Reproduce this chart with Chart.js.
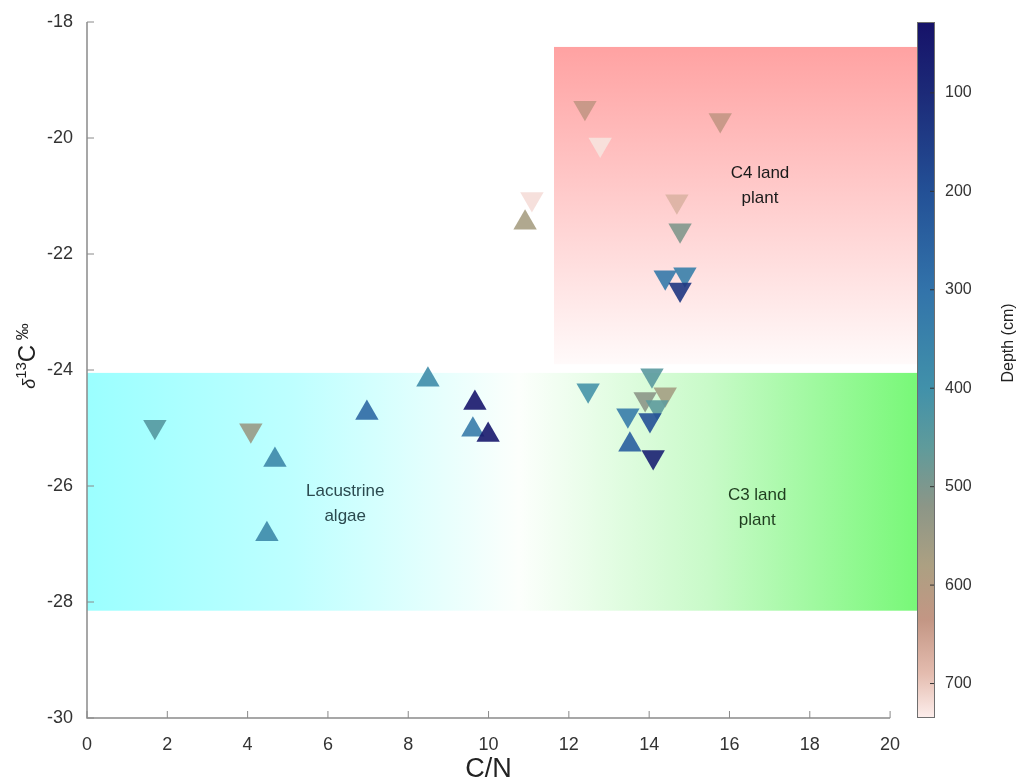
<!DOCTYPE html>
<html><head><meta charset="utf-8">
<script src="https://cdn.jsdelivr.net/npm/chart.js@4.4.1/dist/chart.umd.min.js"></script>
<style>html,body{margin:0;padding:0;background:#fff;overflow:hidden;}</style>
</head><body>
<canvas id="c" width="1017" height="784"></canvas>
<script>
// ---- data ----
const xTickValues = [0,2,4,6,8,10,12,14,16,18,20];
const yTickValues = [-30,-28,-26,-24,-22,-20,-18];
const depthTickValues = [100,200,300,400,500,600,700];

// downward triangles
const cnDown   = [1.69, 4.08, 12.40, 12.78, 15.77, 11.08, 14.69, 14.77, 14.40, 14.89, 14.77, 12.48, 14.07, 14.40, 13.90, 14.20, 13.47, 14.02, 14.10];
const d13cDown = [-24.98, -25.04, -19.48, -20.11, -19.69, -21.05, -21.09, -21.59, -22.40, -22.35, -22.61, -24.35, -24.09, -24.42, -24.50, -24.64, -24.78, -24.86, -25.50];
const depthDown= [440, 545, 635, 725, 635, 720, 675, 505, 320, 340, 130, 410, 450, 565, 520, 455, 330, 200, 70];

// upward triangles
const cnUp   = [10.91, 4.68, 4.48, 6.97, 8.49, 9.66, 9.61, 9.99, 13.52];
const d13cUp = [-21.46, -25.55, -26.83, -24.74, -24.17, -24.57, -25.03, -25.12, -25.29];
const depthUp= [570, 370, 375, 270, 385, 40, 330, 45, 240];

// shaded source regions (C/N range, d13C range)
const c4Region  = {cnFrom: 11.63, d13cTop: -18.43, d13cBottom: -23.9};
const mixRegion = {cnFrom: 0, d13cTop: -24.05, d13cBottom: -28.15};

// depth colormap stops
const cmapDepth = [28, 100, 200, 300, 400, 460, 520, 580, 635, 690, 735];
const cmapRGB = [[22,18,105],[28,42,120],[35,80,150],[50,115,170],[65,145,170],[95,155,155],[140,150,135],[172,160,130],[195,150,132],[228,188,175],[253,238,236]];

const regionLabels = [
  {lines:['Lacustrine','algae'], cn:6.43, d13c:-26.3, color:'#2b4a4f'},
  {lines:['C4 land','plant'], cn:16.76, d13c:-20.83, color:'#1a1a1a'},
  {lines:['C3 land','plant'], cn:16.69, d13c:-26.37, color:'#1f3d1f'}
];

const FONT = "'Liberation Sans', Arial, sans-serif";

function depthColor(d, a){
  let i = 0;
  while (i < cmapDepth.length-2 && d > cmapDepth[i+1]) i++;
  const t = Math.max(0, Math.min(1, (d - cmapDepth[i])/(cmapDepth[i+1]-cmapDepth[i])));
  const c = cmapRGB[i].map((v,k)=>Math.round(v + (cmapRGB[i+1][k]-v)*t));
  return `rgba(${c[0]},${c[1]},${c[2]},${a})`;
}

const ALPHA = 0.9;
const downPts = cnDown.map((v,i)=>({x:v, y:d13cDown[i]}));
const upPts = cnUp.map((v,i)=>({x:v, y:d13cUp[i]}));

const drawPlugin = {
  id:'custom',
  beforeDatasetsDraw(chart){
    const {ctx, chartArea:a, scales} = chart;
    const x = scales.x, y = scales.y, dz = scales.depth;
    ctx.save();
    // mixed (lacustrine / C3) band
    let l = x.getPixelForValue(mixRegion.cnFrom), t = y.getPixelForValue(mixRegion.d13cTop), b = y.getPixelForValue(mixRegion.d13cBottom);
    let g = ctx.createLinearGradient(l,0,a.right,0);
    g.addColorStop(0,'rgb(155,255,255)');
    g.addColorStop(0.25,'rgb(190,255,255)');
    g.addColorStop(0.52,'rgb(252,255,252)');
    g.addColorStop(0.75,'rgb(200,250,200)');
    g.addColorStop(1,'rgb(120,248,120)');
    ctx.fillStyle = g; ctx.fillRect(l,t,a.right-l,b-t);
    // C4 band
    l = x.getPixelForValue(c4Region.cnFrom); t = y.getPixelForValue(c4Region.d13cTop); b = y.getPixelForValue(c4Region.d13cBottom);
    g = ctx.createLinearGradient(0,t,0,b);
    g.addColorStop(0,'rgb(255,162,162)');
    g.addColorStop(1,'rgb(255,250,250)');
    ctx.fillStyle = g; ctx.fillRect(l,t,a.right-l,b-t);

    // axes lines (left & bottom) with inward ticks
    ctx.strokeStyle = '#8a8a8a'; ctx.lineWidth = 1.5;
    const x0 = x.getPixelForValue(0), x20 = x.getPixelForValue(20);
    ctx.beginPath(); ctx.moveTo(x0, a.top); ctx.lineTo(x0, a.bottom); ctx.lineTo(x20, a.bottom); ctx.stroke();
    ctx.lineWidth = 1;
    ctx.beginPath();
    xTickValues.forEach(v=>{const px=x.getPixelForValue(v); ctx.moveTo(px,a.bottom); ctx.lineTo(px,a.bottom-7);});
    yTickValues.forEach(v=>{const py=y.getPixelForValue(v); ctx.moveTo(x0,py); ctx.lineTo(x0+7,py);});
    ctx.stroke();

    // colorbar
    const cbL = a.right, cbR = a.right + 18;
    g = ctx.createLinearGradient(0, dz.getPixelForValue(cmapDepth[0]), 0, dz.getPixelForValue(cmapDepth[cmapDepth.length-1]));
    cmapDepth.forEach((d,i)=>{ g.addColorStop((d-cmapDepth[0])/(cmapDepth[cmapDepth.length-1]-cmapDepth[0]), depthColor(d,1)); });
    ctx.fillStyle = g; ctx.fillRect(cbL, a.top, cbR-cbL, a.bottom-a.top);
    ctx.strokeStyle = '#6e6e6e'; ctx.lineWidth = 1;
    ctx.strokeRect(cbL+0.5, a.top+0.5, cbR-cbL-1, a.bottom-a.top-1);
    ctx.beginPath();
    depthTickValues.forEach(v=>{const py=dz.getPixelForValue(v); ctx.moveTo(cbR-1,py); ctx.lineTo(cbR-5,py);});
    ctx.strokeStyle='#333'; ctx.stroke();
    ctx.restore();
  },
  afterDatasetsDraw(chart){
    const {ctx, chartArea:a, scales} = chart;
    const x = scales.x, y = scales.y;
    ctx.save();
    ctx.textAlign='center'; ctx.textBaseline='middle';
    ctx.font = `17px ${FONT}`;
    regionLabels.forEach(lb=>{
      const cx = x.getPixelForValue(lb.cn), cy = y.getPixelForValue(lb.d13c);
      ctx.fillStyle = lb.color;
      const n = lb.lines.length;
      lb.lines.forEach((s,i)=>ctx.fillText(s, cx, cy + (i-(n-1)/2)*25));
    });
    // x title
    ctx.fillStyle = '#222';
    ctx.font = `27px ${FONT}`;
    ctx.fillText('C/N', (x.getPixelForValue(0)+x.getPixelForValue(20))/2, 770);
    // y title: δ13C ‰ rotated
    ctx.translate(27, 356);
    ctx.rotate(-Math.PI/2);
    const parts = [
      {s:'δ', f:`italic 18px ${FONT}`, dy:0},
      {s:'13', f:`15px ${FONT}`, dy:-9},
      {s:'C', f:`24px ${FONT}`, dy:0},
      {s:' ‰', f:`17px ${FONT}`, dy:-7}
    ];
    let w = 0;
    parts.forEach(p=>{ctx.font=p.f; p.w=ctx.measureText(p.s).width; w+=p.w;});
    let cx = -w/2;
    ctx.textAlign='left'; ctx.textBaseline='alphabetic';
    parts.forEach(p=>{ctx.font=p.f; ctx.fillText(p.s, cx, 8+p.dy); cx+=p.w;});
    ctx.restore();
    // depth title
    ctx.save();
    ctx.translate(1009, 343);
    ctx.rotate(-Math.PI/2);
    ctx.textAlign='center'; ctx.textBaseline='middle';
    ctx.font = `16px ${FONT}`; ctx.fillStyle='#222';
    ctx.fillText('Depth (cm)', 0, 0);
    ctx.restore();
  }
};

function noPad(s){ s.paddingTop=0; s.paddingBottom=0; s.paddingLeft=0; s.paddingRight=0; }
const tickFont = {family: FONT, size: 18};
new Chart(document.getElementById('c'), {
  type: 'scatter',
  data: {
    datasets: [
      {label:'down', data: downPts, pointStyle:'triangle', rotation:180, pointRadius:13.5, pointHoverRadius:13.5,
       backgroundColor: depthDown.map(d=>depthColor(d,ALPHA)), borderWidth:0},
      {label:'up', data: upPts, pointStyle:'triangle', rotation:0, pointRadius:13.5, pointHoverRadius:13.5,
       backgroundColor: depthUp.map(d=>depthColor(d,ALPHA)), borderWidth:0}
    ]
  },
  options: {
    responsive:false, animation:false, devicePixelRatio:1,
    layout:{padding:{top:22,left:0,right:0,bottom:0}},
    plugins:{legend:{display:false}, tooltip:{enabled:false}},
    scales:{
      x:{type:'linear', min:0, max:20.67,
         afterBuildTicks:s=>{s.ticks = xTickValues.map(v=>({value:v}));},
         ticks:{font:tickFont, color:'#333', padding:16, maxRotation:0},
         grid:{display:false, drawTicks:false}, border:{display:false},
         afterFit:s=>{s.height=66; noPad(s);}},
      y:{type:'linear', min:-30, max:-18,
         afterBuildTicks:s=>{s.ticks = yTickValues.map(v=>({value:v}));},
         ticks:{font:tickFont, color:'#333', padding:14},
         grid:{display:false, drawTicks:false}, border:{display:false},
         afterFit:s=>{s.width=87; noPad(s);}},
      depth:{type:'linear', position:'right', reverse:true, min:28, max:735,
         afterBuildTicks:s=>{s.ticks = depthTickValues.map(v=>({value:v}));},
         ticks:{font:{family:FONT,size:16}, color:'#333', padding:28},
         grid:{display:false, drawTicks:false}, border:{display:false},
         afterFit:s=>{s.width=100; noPad(s);}}
    }
  },
  plugins:[drawPlugin]
});
</script>
</body></html>
